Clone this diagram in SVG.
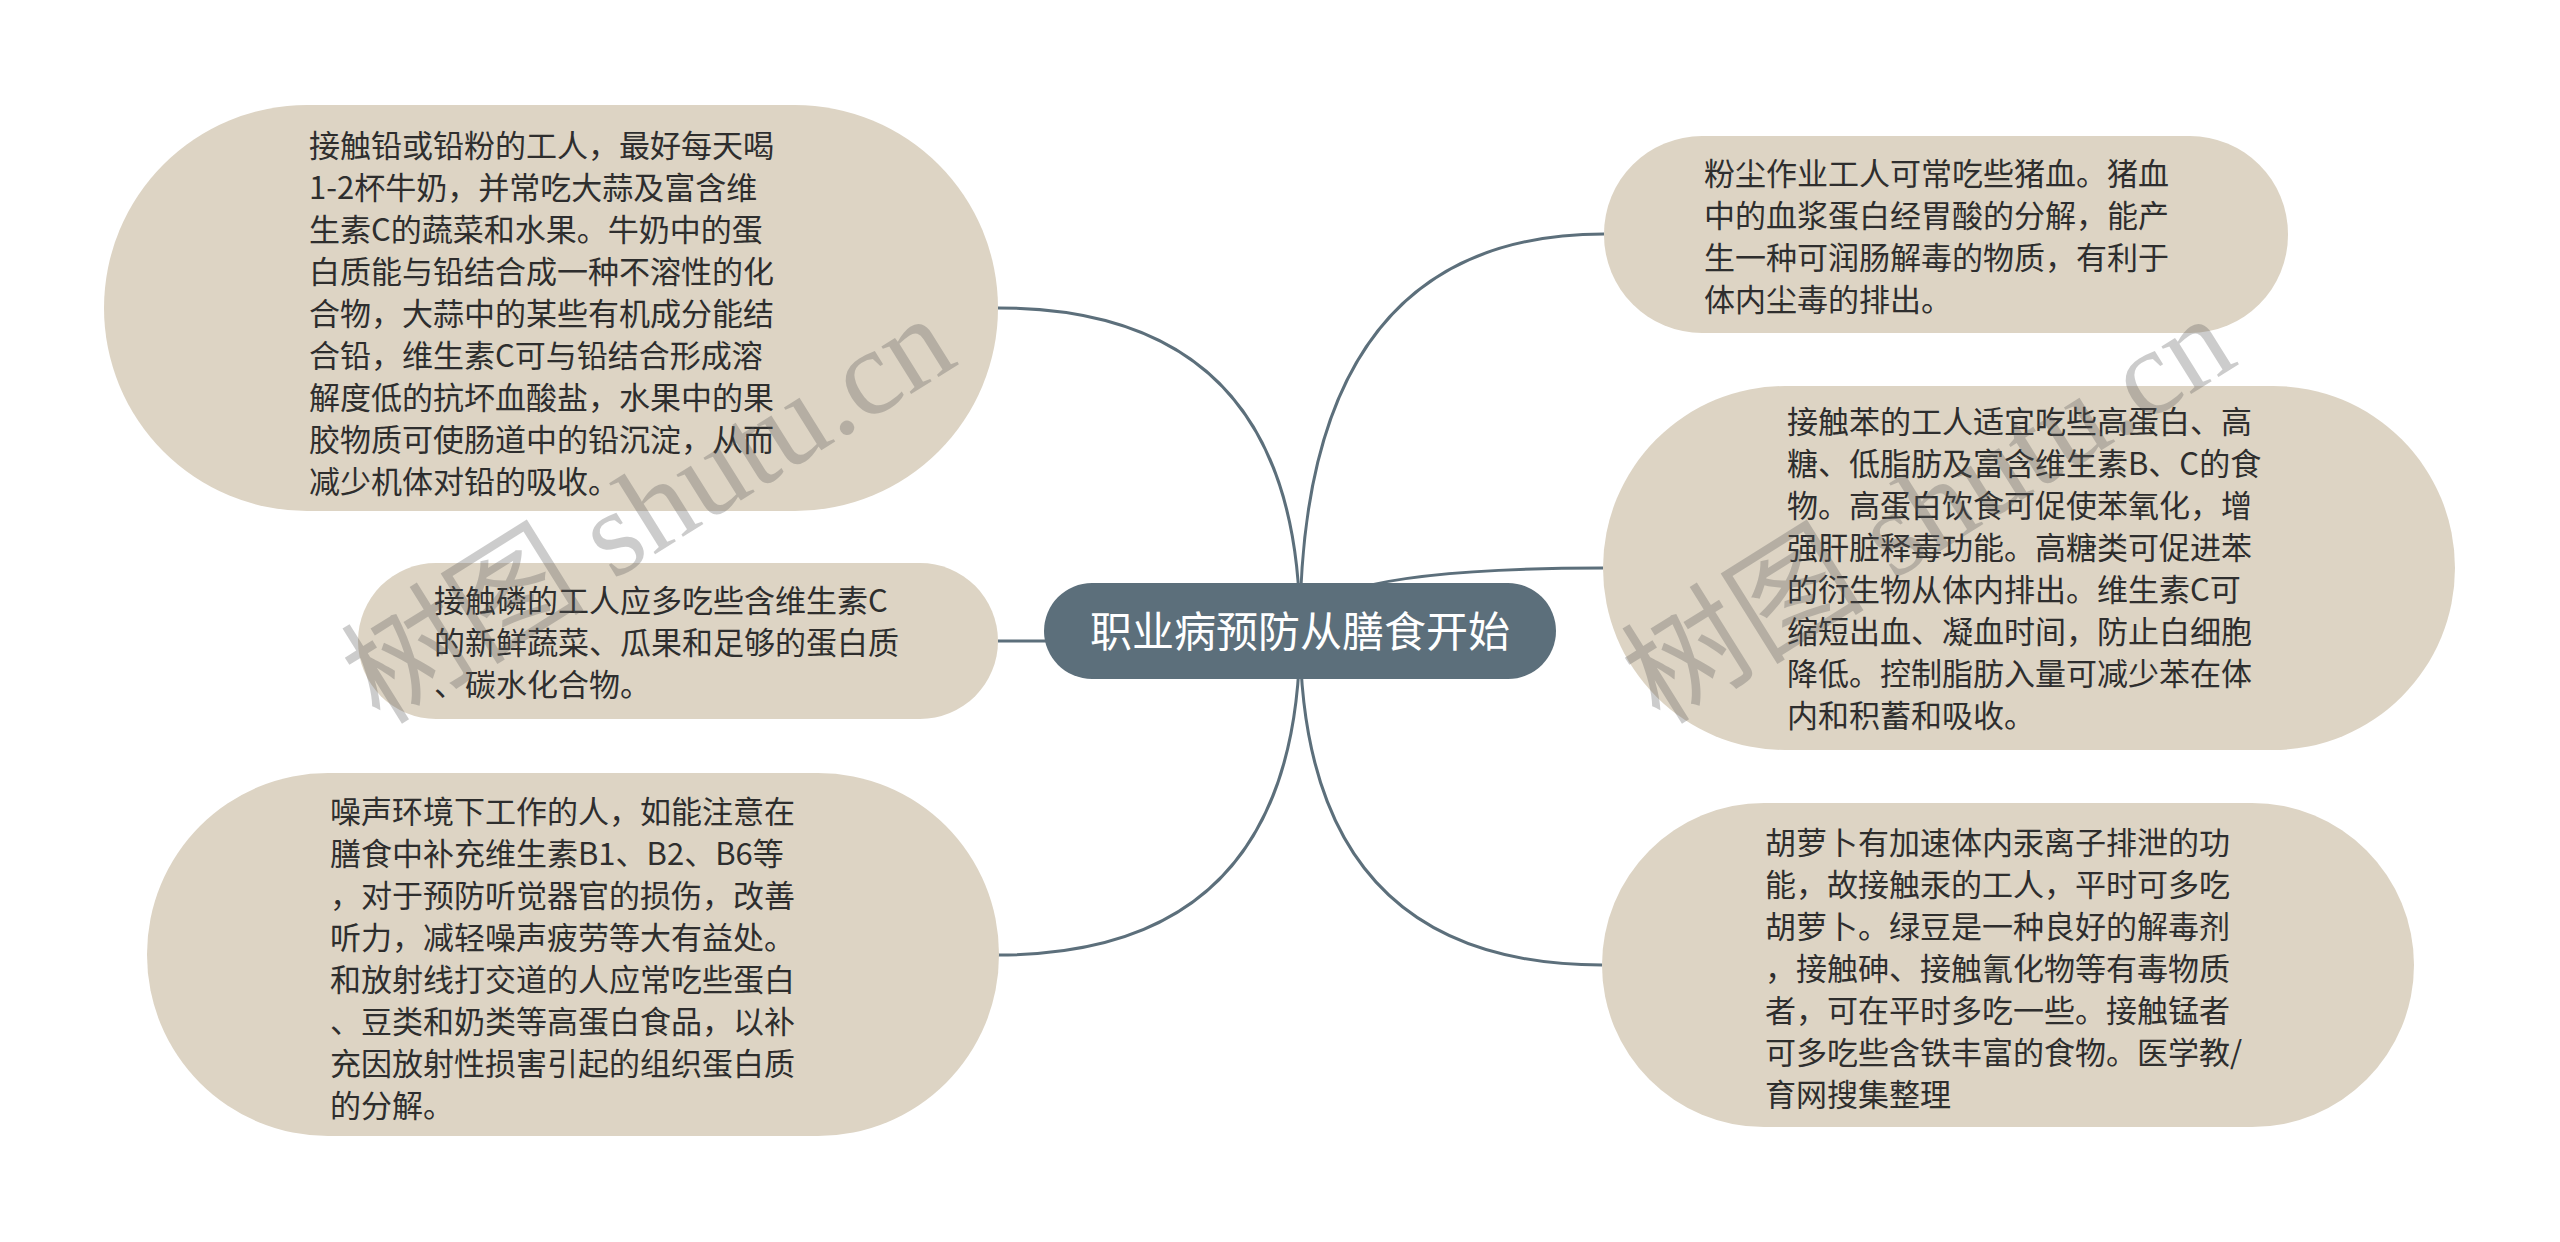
<svg xmlns="http://www.w3.org/2000/svg" width="2560" height="1242" viewBox="0 0 2560 1242">
<style>
.bg{fill:#ffffff}
.node{fill:#ddd4c4}
.root{fill:#5c6f7b}
.t{font-family:"Noto Sans CJK SC","Liberation Sans",sans-serif;font-size:31px;fill:#2e2e2e}
.rt{font-family:"Noto Sans CJK SC","Liberation Sans",sans-serif;font-size:42px;fill:#ffffff;text-anchor:middle}
.edge{fill:none;stroke:#5c6f7b;stroke-width:3}
.wm{font-family:"Liberation Serif","Noto Sans CJK SC",serif;font-size:122px;fill:#5a5a5a;opacity:0.3}
</style>
<rect class="bg" x="0" y="0" width="2560" height="1242"/>
<g id="connectors">
<path class="edge" d="M 1300 631 Q 1300 308 998 308"/>
<path class="edge" d="M 1300 631 Q 1300 641 998 641"/>
<path class="edge" d="M 1300 631 Q 1300 955 998 955"/>
<path class="edge" d="M 1300 631 Q 1300 234 1604 234"/>
<path class="edge" d="M 1300 631 Q 1300 568 1603 568"/>
<path class="edge" d="M 1300 631 Q 1300 965 1602 965"/>
</g>
<g id="root">
<rect class="root" x="1044" y="583" width="512" height="96" rx="48" ry="48"/>
<text class="rt" x="1300" y="647">职业病预防从膳食开始</text>
</g>
<g id="node-lead">
<rect class="node" x="104" y="105" width="894" height="406" rx="203" ry="203"/>
<text class="t">
<tspan x="309" y="157">接触铅或铅粉的工人，最好每天喝</tspan>
<tspan x="309" y="199">1-2杯牛奶，并常吃大蒜及富含维</tspan>
<tspan x="309" y="241">生素C的蔬菜和水果。牛奶中的蛋</tspan>
<tspan x="309" y="283">白质能与铅结合成一种不溶性的化</tspan>
<tspan x="309" y="325">合物，大蒜中的某些有机成分能结</tspan>
<tspan x="309" y="367">合铅，维生素C可与铅结合形成溶</tspan>
<tspan x="309" y="409">解度低的抗坏血酸盐，水果中的果</tspan>
<tspan x="309" y="451">胶物质可使肠道中的铅沉淀，从而</tspan>
<tspan x="309" y="493">减少机体对铅的吸收。</tspan>
</text>
</g>
<g id="node-phosphorus">
<rect class="node" x="358" y="563" width="640" height="156" rx="78" ry="78"/>
<text class="t">
<tspan x="434" y="612">接触磷的工人应多吃些含维生素C</tspan>
<tspan x="434" y="654">的新鲜蔬菜、瓜果和足够的蛋白质</tspan>
<tspan x="434" y="696">、碳水化合物。</tspan>
</text>
</g>
<g id="node-noise">
<rect class="node" x="147" y="773" width="852" height="363" rx="181" ry="181"/>
<text class="t">
<tspan x="330" y="823">噪声环境下工作的人，如能注意在</tspan>
<tspan x="330" y="865">膳食中补充维生素B1、B2、B6等</tspan>
<tspan x="330" y="907">，对于预防听觉器官的损伤，改善</tspan>
<tspan x="330" y="949">听力，减轻噪声疲劳等大有益处。</tspan>
<tspan x="330" y="991">和放射线打交道的人应常吃些蛋白</tspan>
<tspan x="330" y="1033">、豆类和奶类等高蛋白食品，以补</tspan>
<tspan x="330" y="1075">充因放射性损害引起的组织蛋白质</tspan>
<tspan x="330" y="1117">的分解。</tspan>
</text>
</g>
<g id="node-dust">
<rect class="node" x="1604" y="136" width="684" height="197" rx="98" ry="98"/>
<text class="t">
<tspan x="1704" y="185">粉尘作业工人可常吃些猪血。猪血</tspan>
<tspan x="1704" y="227">中的血浆蛋白经胃酸的分解，能产</tspan>
<tspan x="1704" y="269">生一种可润肠解毒的物质，有利于</tspan>
<tspan x="1704" y="311">体内尘毒的排出。</tspan>
</text>
</g>
<g id="node-benzene">
<rect class="node" x="1603" y="386" width="852" height="364" rx="182" ry="182"/>
<text class="t">
<tspan x="1787" y="433">接触苯的工人适宜吃些高蛋白、高</tspan>
<tspan x="1787" y="475">糖、低脂肪及富含维生素B、C的食</tspan>
<tspan x="1787" y="517">物。高蛋白饮食可促使苯氧化，增</tspan>
<tspan x="1787" y="559">强肝脏释毒功能。高糖类可促进苯</tspan>
<tspan x="1787" y="601">的衍生物从体内排出。维生素C可</tspan>
<tspan x="1787" y="643">缩短出血、凝血时间，防止白细胞</tspan>
<tspan x="1787" y="685">降低。控制脂肪入量可减少苯在体</tspan>
<tspan x="1787" y="727">内和积蓄和吸收。</tspan>
</text>
</g>
<g id="node-mercury">
<rect class="node" x="1602" y="803" width="812" height="324" rx="162" ry="162"/>
<text class="t">
<tspan x="1765" y="854">胡萝卜有加速体内汞离子排泄的功</tspan>
<tspan x="1765" y="896">能，故接触汞的工人，平时可多吃</tspan>
<tspan x="1765" y="938">胡萝卜。绿豆是一种良好的解毒剂</tspan>
<tspan x="1765" y="980">，接触砷、接触氰化物等有毒物质</tspan>
<tspan x="1765" y="1022">者，可在平时多吃一些。接触锰者</tspan>
<tspan x="1765" y="1064">可多吃些含铁丰富的食物。医学教/</tspan>
<tspan x="1765" y="1106">育网搜集整理</tspan>
</text>
</g>
<g id="watermarks">
<text class="wm" transform="translate(380,726) rotate(-32)">树图 shutu.cn</text>
<text class="wm" transform="translate(1660,726) rotate(-32)">树图 shutu.cn</text>
</g>
</svg>
